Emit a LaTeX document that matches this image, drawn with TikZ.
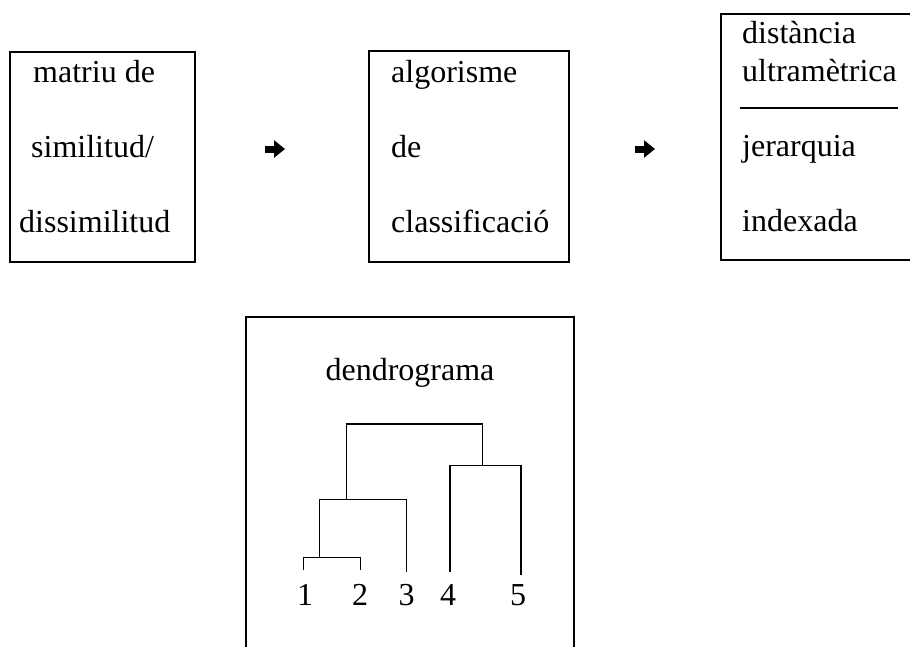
\documentclass[tikz,border=0pt]{standalone}
\usepackage{fontspec}
\setmainfont{Liberation Serif}
\usetikzlibrary{arrows.meta}
\begin{document}
\begin{tikzpicture}[x=1pt,y=-1pt,
  box/.style={draw, line width=1.5pt, inner sep=0pt, rectangle},
  lbl/.style={anchor=base west, inner sep=0pt, font=\fontsize{32}{38}\selectfont},
  ttl/.style={anchor=base, inner sep=0pt, font=\fontsize{32}{38}\selectfont},
  tree/.style={line width=1.4pt},
  fatarrow/.style={line width=7pt, -{Triangle[length=11pt,width=17pt]}}
]
\useasboundingbox (0,0) rectangle (910,646);

% boxes
\node[box, minimum width=185pt, minimum height=210pt] (b1) at (102.5,157) {};
\node[box, minimum width=200pt, minimum height=211pt] (b2) at (469,156.5) {};
\node[box, minimum width=192pt, minimum height=246pt] (b3) at (817,137) {};
\node[box, minimum width=328pt, minimum height=335pt] (b4) at (410,484.5) {};

% texts box 1
\node[lbl] (t11) at (33,82) {matriu de};
\node[lbl] (t12) at (31,157) {similitud/};
\node[lbl] (t13) at (19,232) {dissimilitud};
% texts box 2
\node[lbl] (t21) at (391,82) {algorisme};
\node[lbl] (t22) at (391,157) {de};
\node[lbl] (t23) at (391,232) {classificació};
% texts box 3
\node[lbl] (t31) at (742,43) {distància};
\node[lbl] (t32) at (742,81) {ultramètrica};
\node[lbl] (t33) at (742,156) {jerarquia};
\node[lbl] (t34) at (742,231) {indexada};
\coordinate (dl) at (740,108);
\coordinate (dr) at (898,108);
\draw[line width=1.2pt] (dl) -- (dr);

% arrows
\coordinate (a1s) at (265,149);
\coordinate (a1e) at (285,149);
\coordinate (a2s) at (635,149);
\coordinate (a2e) at (655,149);
\draw[fatarrow] (a1s) -- (a1e);
\draw[fatarrow] (a2s) -- (a2e);

% dendrogram
\node[ttl] (td) at (410,380) {dendrograma};
\node[ttl] (n1) at (305,605) {1};
\node[ttl] (n2) at (360,605) {2};
\node[ttl] (n3) at (406.7,605) {3};
\node[ttl] (n4) at (448,605) {4};
\node[ttl] (n5) at (518,605) {5};

\coordinate (l1) at (303.3,570);
\coordinate (l2) at (360.7,570);
\coordinate (l3) at (406.7,571.7);
\coordinate (l4) at (450,572);
\coordinate (l5) at (521,575);
\coordinate (j12) at (319.3,557.3);
\coordinate (j123) at (346.7,499.3);
\coordinate (j45) at (482.7,465.7);

\draw[tree] (l1) |- (j12) -| (l2);
\draw[tree] (j12) |- (j123) -| (l3);
\draw[tree] (l4) |- (j45) -| (l5);
\draw[tree] (j123) |- (400,424) -| (j45);
\end{tikzpicture}
\end{document}
